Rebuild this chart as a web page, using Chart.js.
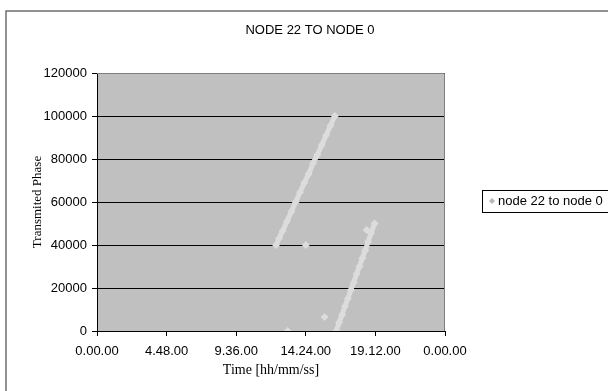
<!DOCTYPE html>
<html>
<head>
<meta charset="utf-8">
<script src="https://cdn.jsdelivr.net/npm/chart.js@4.4.1/dist/chart.umd.min.js"></script>
<style>
  html, body { margin: 0; padding: 0; background: #fff; }
  #wrap { width: 608px; height: 391px; }
</style>
</head>
<body>
<div id="wrap"><canvas id="chart" width="608" height="391"></canvas></div>
<script>
// time in hours of the day, phase values
const seg1Time  = [12.35, 12.55, 12.8, 13.1, 13.4, 13.7, 14.0, 14.3, 14.6, 14.9, 15.2, 15.5, 15.8, 16.1, 16.4];
const seg1Phase = [40000, 43000, 46500, 51000, 55500, 60000, 64500, 69000, 73000, 78000, 82000, 86500, 91000, 95500, 100000];
const seg2Time  = [16.5, 16.7, 16.9, 17.1, 17.3, 17.5, 17.7, 17.9, 18.1, 18.3, 18.5, 18.7, 18.9, 19.15];
const seg2Phase = [0, 4000, 7500, 11500, 15000, 19000, 22500, 26500, 30000, 34000, 37500, 41500, 45500, 50000];
const strayTime  = [13.15, 14.4, 15.7, 18.6];
const strayPhase = [0, 40000, 6500, 47000];

const xTickLabels = ['0.00.00', '4.48.00', '9.36.00', '14.24.00', '19.12.00', '0.00.00'];
const seriesName = 'node 22 to node 0';
const chartTitle = 'NODE 22 TO NODE 0';

const pointColor = '#dcdcdc';

// one dataset, gaps (null phase) break the line between groups
const points = [];
seg1Time.forEach((t, i) => points.push({ x: t, y: seg1Phase[i] }));
points.push({ x: 16.45, y: null });
seg2Time.forEach((t, i) => points.push({ x: t, y: seg2Phase[i] }));
strayTime.forEach((t, i) => {
    points.push({ x: t, y: null });
    points.push({ x: t, y: strayPhase[i] });
});

// frame, plot background, plot border, title and legend box
const decorPlugin = {
    id: 'decor',
    beforeDraw(chart) {
        const { ctx, chartArea: a } = chart;
        ctx.save();
        ctx.fillStyle = '#fff';
        ctx.fillRect(0, 0, chart.width, chart.height);
        ctx.strokeStyle = '#6e6e6e';
        ctx.lineWidth = 1.5;
        ctx.strokeRect(6, 11, 640, 420);
        ctx.fillStyle = '#c0c0c0';
        ctx.fillRect(a.left, a.top, a.right - a.left, a.bottom - a.top);
        ctx.restore();
    },
    afterDraw(chart) {
        const { ctx, chartArea: a } = chart;
        ctx.save();
        ctx.strokeStyle = '#808080';
        ctx.lineWidth = 1;
        ctx.beginPath();
        ctx.moveTo(a.left, a.top + 0.5);
        ctx.lineTo(a.right - 0.5, a.top + 0.5);
        ctx.lineTo(a.right - 0.5, a.bottom);
        ctx.stroke();

        ctx.fillStyle = '#000';
        ctx.font = '13px "Liberation Sans", Arial, sans-serif';
        ctx.textAlign = 'center';
        ctx.textBaseline = 'middle';
        ctx.fillText(chartTitle, 310, 30);

        // legend
        ctx.strokeStyle = '#000';
        ctx.strokeRect(482.5, 190.5, 140, 22);
        ctx.fillStyle = '#b8b8b8';
        ctx.beginPath();
        ctx.moveTo(492, 198); ctx.lineTo(495, 201); ctx.lineTo(492, 204); ctx.lineTo(489, 201);
        ctx.closePath();
        ctx.fill();
        ctx.fillStyle = '#000';
        ctx.textAlign = 'left';
        ctx.fillText(seriesName, 498, 201.5);
        ctx.restore();
    }
};

new Chart(document.getElementById('chart'), {
    type: 'scatter',
    data: {
        datasets: [{
            label: seriesName,
            data: points,
            showLine: true,
            spanGaps: false,
            borderColor: pointColor,
            borderWidth: 5,
            backgroundColor: pointColor,
            pointStyle: 'rectRot',
            pointRadius: 4,
            pointBorderWidth: 0
        }]
    },
    options: {
        responsive: false,
        animation: false,
        events: [],
        layout: { padding: { left: 0, top: 73, right: 163, bottom: 0 } },
        plugins: {
            legend: { display: false },
            title: { display: false },
            tooltip: { enabled: false }
        },
        scales: {
            x: {
                type: 'linear',
                min: 0,
                max: 24,
                afterFit: (s) => { s.height = 60; },
                afterBuildTicks: (s) => {
                    s.ticks = xTickLabels.map((_, i) => ({ value: i * 4.8 }));
                },
                border: { color: '#000', width: 1 },
                grid: { drawOnChartArea: false, drawTicks: true, tickLength: 5, color: '#000' },
                ticks: {
                    color: '#000',
                    padding: 8,
                    maxRotation: 0,
                    autoSkip: false,
                    font: { family: '"Liberation Sans", Arial, sans-serif', size: 13 },
                    callback: (v, i) => xTickLabels[i]
                },
                title: {
                    display: true,
                    text: 'Time [hh/mm/ss]',
                    color: '#000',
                    padding: { top: 0, bottom: 12 },
                    font: { family: '"Liberation Serif", "Times New Roman", serif', size: 14 }
                }
            },
            y: {
                min: 0,
                max: 120000,
                afterFit: (s) => { s.width = 97; },
                border: { color: '#000', width: 1 },
                grid: { color: '#000', lineWidth: 1, tickLength: 5, drawTicks: true },
                ticks: {
                    stepSize: 20000,
                    color: '#000',
                    padding: 5,
                    font: { family: '"Liberation Sans", Arial, sans-serif', size: 13 },
                    callback: (v) => String(v)
                },
                title: {
                    display: true,
                    text: 'Transmited Phase',
                    color: '#000',
                    padding: { top: 30, bottom: 0 },
                    font: { family: '"Liberation Serif", "Times New Roman", serif', size: 13 }
                }
            }
        }
    },
    plugins: [decorPlugin]
});
</script>
</body>
</html>
